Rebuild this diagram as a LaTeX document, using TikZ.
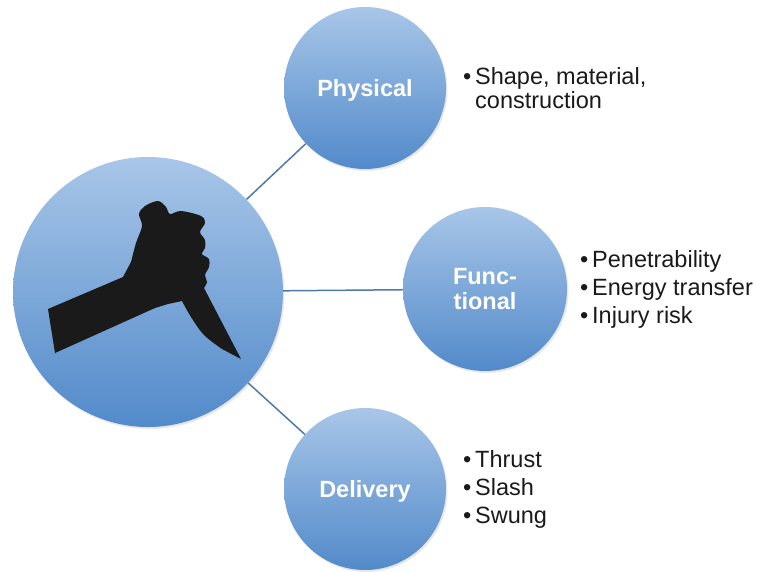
\documentclass[tikz,border=0pt]{standalone}
\usepackage{fontspec}
\setmainfont{Liberation Sans}
\usetikzlibrary{shadows}
\definecolor{circtop}{RGB}{168,198,232}
\definecolor{circbot}{RGB}{82,138,202}
\definecolor{linkblue}{RGB}{78,122,168}
\definecolor{inkgray}{RGB}{26,26,26}
\newcommand{\itm}[1]{\makebox[12pt][l]{•}#1}

\begin{document}
\begin{tikzpicture}[x=1pt,y=-1pt]
		\tikzstyle{topic}=[draw=none,shape=circle,inner sep=0pt,top color=circtop,bottom color=circbot,
			drop shadow={shadow xshift=1.5pt,shadow yshift=-2pt,opacity=0.18},
			text=white,font=\fontsize{23.5}{25}\selectfont\bfseries,align=center,text depth=0pt];
		\tikzstyle{items}=[inner sep=0pt,anchor=base west,align=left,text=inkgray,
			font=\fontsize{23.5}{23.5}\selectfont];
		\tikzstyle{link}=[draw=linkblue,line width=1.5pt];
		\useasboundingbox (0,0) rectangle (757,571);
		% circles
		\path (148,292) node[topic,minimum size=270pt] (weapon) {};
		\path (365,88)  node[topic,minimum size=162pt] (phys) {Physical};
		\path (485,289) node[topic,minimum size=164pt] (func) {Func-\\tional};
		\path (365,489) node[topic,minimum size=162pt] (deliv) {Delivery};
		\draw[link] (weapon) -- (phys)
		(weapon) -- (func)
		(weapon) -- (deliv);
		% knife in hand
		\fill[inkgray] (55,353) -- (48,309) -- (123,277)
		-- plot[smooth,tension=0.55] coordinates {(131,262) (136,243) (142,226) (139,214) (145,206)
			(158,201) (166,207) (170,214) (181,211) (201,216) (205,223) (200,232) (205,240)
			(205,248) (202,254) (209,259) (209,267) (205,275) (207,282) (204,288)}
		-- (241,359)
		-- plot[smooth,tension=0.55] coordinates {(222,349) (204,335) (191,317) (182,301)}
		-- (168,304) -- (155,308) -- cycle;
		% lists
		\node[items] (physlist) at (463,108) {\itm{Shape, material,}\\\hspace*{12pt}construction};
		\node[items] (funclist) at (580,323) {\itm{Penetrability}\\[4.5pt]\itm{Energy transfer}\\[4.5pt]\itm{Injury risk}};
		\node[items] (delivlist) at (463,523) {\itm{Thrust}\\[4.5pt]\itm{Slash}\\[4.5pt]\itm{Swung}};
		\end{tikzpicture}
\end{document}
